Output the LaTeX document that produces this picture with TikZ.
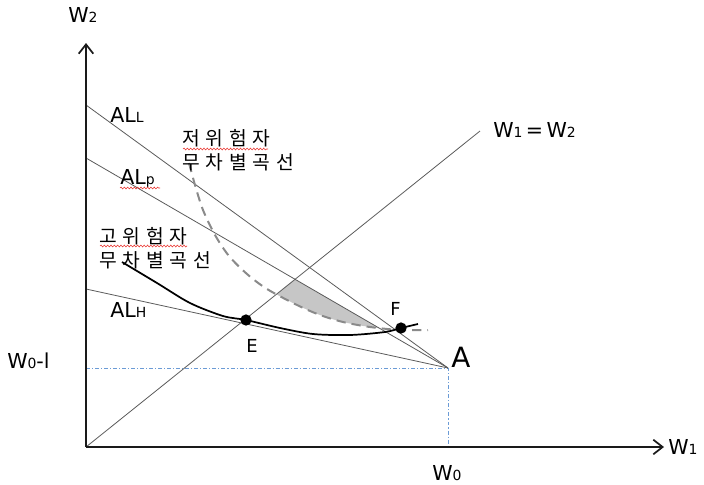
\documentclass[tikz,border=0pt]{standalone}
\usepackage{fontspec}
\setmainfont{DejaVu Sans}
\newfontfamily\krfont[LetterSpace=30]{Noto Sans CJK KR}
\usetikzlibrary{arrows.meta,calc,intersections,decorations.pathmorphing}
\definecolor{dgLine}{HTML}{5A5A5A}
\definecolor{dgAxis}{HTML}{1A1A1A}
\definecolor{dgGuide}{HTML}{6B9BD6}
\definecolor{dgDash}{HTML}{8A8A8A}
\definecolor{dgShade}{HTML}{C6C6C6}
\definecolor{dgSpell}{HTML}{E8302A}
\tikzset{
  dg-axis/.style={draw=dgAxis, line width=1.5pt,
    -{Straight Barb[length=7pt,width=11pt,line width=1.3pt]}},
  dg-thin/.style={draw=dgLine, line width=0.6pt},
  dg-guide/.style={draw=dgGuide, line width=0.5pt,
    dash pattern=on 3pt off 1.5pt on 0.8pt off 1.5pt},
  dg-high/.style={draw=black, line width=1.3pt},
  dg-low/.style={draw=dgDash, line width=1.5pt, dash pattern=on 7pt off 4.5pt},
  dg-shade/.style={fill=dgShade},
  dg-dot/.style={circle, fill=black, inner sep=0pt, minimum size=8.5pt},
  dg-lab/.style={font=\fontsize{15.5}{16}\selectfont, inner sep=0pt,
    anchor=base west},
  dg-pt/.style={font=\fontsize{13.5}{14}\selectfont, inner sep=0pt,
    anchor=base west},
  dg-kr/.style={font=\fontsize{14.5}{18}\selectfont\krfont, align=left,
    inner sep=0pt, anchor=west},
  dg-spell/.style={draw=dgSpell, line width=0.4pt, decorate,
    decoration={snake, amplitude=0.7pt, segment length=2.5pt}}
}
\newcommand{\subtxt}[1]{{\fontsize{10.5}{10}\selectfont #1}}

\begin{document}
\begin{tikzpicture}[x=0.02646cm, y=-0.02646cm]
\useasboundingbox (0,0) rectangle (704,484);

\coordinate (O) at (86,447);
\coordinate (ytip) at (86,43);
\coordinate (xtip) at (664,447);
\coordinate (A) at (448,368);
\coordinate (ALLy) at (86,105);
\coordinate (ALPy) at (86,158);
\coordinate (ALHy) at (86,289);
\coordinate (diagtop) at (480,131);
\coordinate (w0ly) at (86,368);
\coordinate (w0x) at (448,447);

\path[name path=diag] (O) -- (diagtop);
\path[name path=alp] (ALPy) -- (A);
\path[name intersections={of=diag and alp, by=P}];

\begin{scope}
  \clip (O) -- (P) -- (A) -- cycle;
  \fill[dg-shade] plot[smooth] coordinates {(189,163) (195,185) (203,210)
    (215,235) (229,256) (247,274) (267,289) (297,305) (320,315) (343,322)
    (370,327) (400,330) (428,330)} -- (428,150) -- (189,150) -- cycle;
\end{scope}

\draw[dg-guide] (w0ly) -- (A) -- (w0x);
\draw[dg-thin] (O) -- (diagtop);
\draw[dg-thin] (ALLy) -- (A);
\draw[dg-thin] (ALPy) -- (A);
\draw[dg-thin] (ALHy) -- (A);

\draw[dg-low] plot[smooth] coordinates {(189,163) (195,185) (203,210)
  (215,235) (229,256) (247,274) (267,289) (297,305) (320,315) (343,322)
  (370,327) (400,330) (428,330)};
\draw[dg-high] plot[smooth] coordinates {(122,262) (157,283) (190,303)
  (223,316) (246,320) (280,328) (313,334) (350,335) (385,332) (401,328)
  (418,324)};

\draw[dg-axis] (O) -- (ytip);
\draw[dg-axis] (O) -- (xtip);

\node[dg-dot] (E) at (246,320) {};
\node[dg-dot] (F) at (401,328) {};

\node[dg-lab] (w2lbl) at (68,22) {W\subtxt{2}};
\node[dg-lab] (w1lbl) at (668,454) {W\subtxt{1}};
\node[dg-lab] (w0lbl) at (432,480) {W\subtxt{0}};
\node[dg-lab] (w0llbl) at (7,368) {W\subtxt{0}-l};
\node[dg-lab] (diaglbl) at (493,137) {W\subtxt{1}\,=\,W\subtxt{2}};
\node[dg-lab] (alllbl) at (110,122) {AL\subtxt{L}};
\node[dg-lab] (alplbl) at (120,184) {AL\subtxt{p}};
\node[dg-lab] (alhlbl) at (110,317) {AL\subtxt{H}};
\node[dg-lab, font=\fontsize{21}{22}\selectfont] (albl) at (451,367) {A};
\node[dg-pt] (elbl) at (246,352) {E};
\node[dg-pt] (flbl) at (390,315) {F};

\node[dg-kr] (lowlbl) at (182,150) {저위험자\\무차별곡선};
\node[dg-kr] (highlbl) at (99,248) {고위험자\\무차별곡선};

\draw[dg-spell] (183,149) -- (268,149);
\draw[dg-spell] (100,246) -- (187,246);
\draw[dg-spell] (120,188) -- (160,188);
\end{tikzpicture}
\end{document}
